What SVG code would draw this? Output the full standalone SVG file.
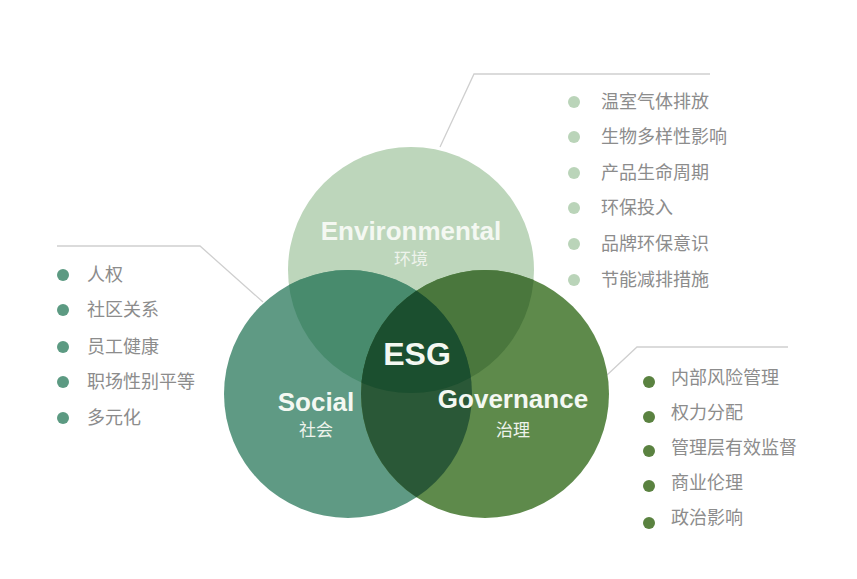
<svg xmlns="http://www.w3.org/2000/svg" width="857" height="579" viewBox="0 0 857 579">
<style>
.title{font-family:"Liberation Sans","Noto Sans CJK SC",sans-serif;font-weight:bold;fill:#f4f8f2;text-anchor:middle}
.sub{font-family:"Noto Sans CJK SC",sans-serif;font-size:17px;fill:#eef3ec;text-anchor:middle}
.item{font-family:"Noto Sans CJK SC",sans-serif;font-size:18px;fill:#8c8c8c}
.conn{fill:none;stroke:#cfcfcf;stroke-width:1.3}
</style>
<defs>
<clipPath id="cE"><circle cx="411" cy="270" r="123"/></clipPath>
<clipPath id="cS"><circle cx="348" cy="394" r="124"/></clipPath>
<clipPath id="cG"><circle cx="485" cy="394" r="124"/></clipPath>
</defs>
<rect width="857" height="579" fill="#ffffff"/>
<g id="connectors">
<polyline class="conn" points="440,147 474,74 710,74"/>
<polyline class="conn" points="57,246 200,246 263,302"/>
<polyline class="conn" points="607,375 637,347 788,347"/>
</g>
<g id="venn">
<circle id="circle-E" cx="411" cy="270" r="123" fill="#bdd6bb"/>
<circle id="circle-S" cx="348" cy="394" r="124" fill="#5f9a84"/>
<circle id="circle-G" cx="485" cy="394" r="124" fill="#5e8a4b"/>
<circle cx="348" cy="394" r="124" fill="#488b6d" clip-path="url(#cE)"/>
<circle cx="485" cy="394" r="124" fill="#4a773d" clip-path="url(#cE)"/>
<circle cx="485" cy="394" r="124" fill="#2a5837" clip-path="url(#cS)"/>
<g clip-path="url(#cE)"><circle cx="485" cy="394" r="124" fill="#1b4f2f" clip-path="url(#cS)"/></g>
</g>
<g id="node-E">
<text class="title" x="411" y="240" font-size="26">Environmental</text>
<text class="sub" x="411" y="265">环境</text>
</g>
<g id="node-S">
<text class="title" x="316" y="411" font-size="26">Social</text>
<text class="sub" x="316" y="436">社会</text>
</g>
<g id="node-G">
<text class="title" x="513" y="408" font-size="26">Governance</text>
<text class="sub" x="513" y="436">治理</text>
</g>
<g id="node-ESG">
<text class="title" x="417" y="365" font-size="32" fill="#ffffff">ESG</text>
</g>
<g id="list-E">
<g fill="#bad4b9">
<circle cx="574" cy="102" r="6"/><circle cx="574" cy="137" r="6"/><circle cx="574" cy="173" r="6"/>
<circle cx="574" cy="208" r="6"/><circle cx="574" cy="244" r="6"/><circle cx="574" cy="280" r="6"/>
</g>
<text class="item" x="601" y="108">温室气体排放</text>
<text class="item" x="601" y="143">生物多样性影响</text>
<text class="item" x="601" y="179">产品生命周期</text>
<text class="item" x="601" y="214">环保投入</text>
<text class="item" x="601" y="250">品牌环保意识</text>
<text class="item" x="601" y="286">节能减排措施</text>
</g>
<g id="list-S">
<g fill="#5c9a82">
<circle cx="63" cy="275" r="6"/><circle cx="63" cy="310" r="6"/><circle cx="63" cy="347" r="6"/>
<circle cx="63" cy="382" r="6"/><circle cx="63" cy="418" r="6"/>
</g>
<text class="item" x="87" y="281">人权</text>
<text class="item" x="87" y="316">社区关系</text>
<text class="item" x="87" y="353">员工健康</text>
<text class="item" x="87" y="388">职场性别平等</text>
<text class="item" x="87" y="424">多元化</text>
</g>
<g id="list-G">
<g fill="#5a8240">
<circle cx="649" cy="382" r="6"/><circle cx="649" cy="417" r="6"/><circle cx="649" cy="451" r="6"/>
<circle cx="649" cy="486" r="6"/><circle cx="649" cy="523" r="6"/>
</g>
<text class="item" x="671" y="384">内部风险管理</text>
<text class="item" x="671" y="419">权力分配</text>
<text class="item" x="671" y="454">管理层有效监督</text>
<text class="item" x="671" y="489">商业伦理</text>
<text class="item" x="671" y="524">政治影响</text>
</g>
</svg>
